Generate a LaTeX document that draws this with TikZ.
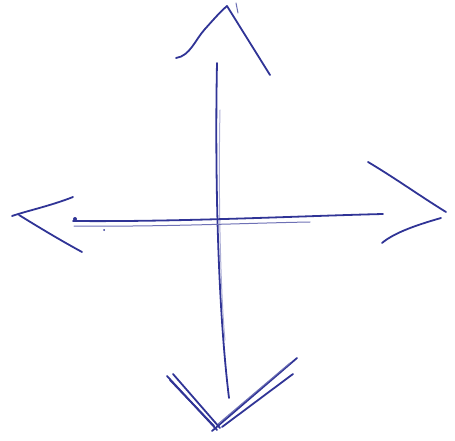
\documentclass[tikz,border=0pt]{standalone}
\begin{document}
\begin{tikzpicture}[x=1pt,y=-1pt]
\definecolor{ink}{RGB}{48,52,150}
\tikzset{pen/.style={draw=ink,line width=1.8pt,line cap=round,line join=round},
         thin pen/.style={draw=ink!70,line width=1pt,line cap=round}}
\useasboundingbox (0,0) rectangle (455,441);
% vertical shaft
\coordinate (vt) at (217,63);
\coordinate (vb) at (229,398);
\draw[pen] (vt) .. controls (215,160) and (217,300) .. (vb);
\draw[thin pen,draw=ink!40] (220,110) .. controls (218,200) and (221,300) .. (225,340);
% horizontal shaft
\coordinate (hl) at (73,221);
\coordinate (hr) at (383,214);
\draw[pen] (hl) .. controls (180,222) and (300,216) .. (hr);
\draw[thin pen] (74,226) .. controls (160,227) and (250,223) .. (310,222);
\fill[ink] (75,219) circle (2pt);
\fill[ink] (104,230) circle (1pt);
% top arrowhead
\coordinate (t1) at (176,58);
\coordinate (tp) at (227,6);
\coordinate (t2) at (270,75);
\draw[pen] (t1) .. controls (190,56) and (195,40) .. (205,29) .. controls (214,19) and (220,12) .. (tp) -- (t2);
\draw[thin pen] (236,3) -- (238,13);
% left arrowhead
\coordinate (l1) at (73,197);
\coordinate (lp) at (12,216);
\coordinate (l2) at (82,252);
\draw[pen] (l1) .. controls (50,206) and (30,210) .. (lp);
\draw[pen] (19,215) .. controls (40,228) and (60,240) .. (l2);
% right arrowhead
\coordinate (r1) at (368,162);
\coordinate (rp) at (446,212);
\draw[pen] (r1) .. controls (395,178) and (420,196) .. (rp);
\draw[pen] (441,218) .. controls (420,224) and (395,232) .. (382,243);
% bottom arrowhead
\coordinate (b1) at (167,376);
\coordinate (bp) at (217,430);
\coordinate (b2) at (297,358);
\draw[pen] (b1) -- (bp);
\draw[pen] (173,374) -- (220,428);
\draw[pen] (170,380) -- (214,426);
\draw[pen] (b2) -- (212,431);
\draw[pen] (293,374) -- (222,427);
\draw[thin pen] (290,363) -- (218,424);
\end{tikzpicture}
\end{document}
